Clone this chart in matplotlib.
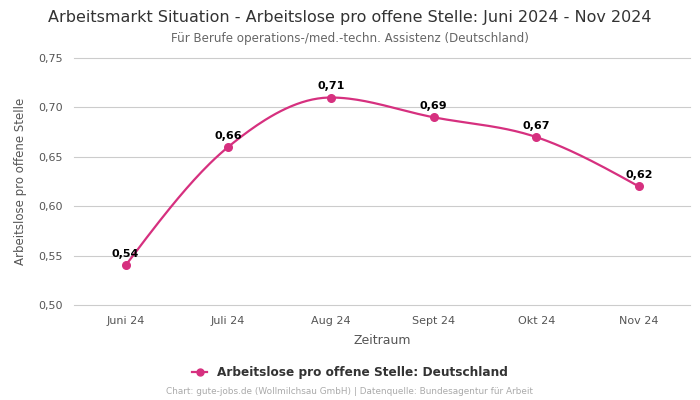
import numpy as np
import matplotlib.pyplot as plt
from matplotlib.lines import Line2D

months = ["Juni 24", "Juli 24", "Aug 24", "Sept 24", "Okt 24", "Nov 24"]
values = [0.54, 0.66, 0.71, 0.69, 0.67, 0.62]
y_ticks = [0.50, 0.55, 0.60, 0.65, 0.70, 0.75]

color = "#d6307f"


def monotone_curve(x, y, n=40):
    # d3-style monotoneX smoothing, only used to draw the line between points
    x = np.asarray(x, float)
    y = np.asarray(y, float)
    h = np.diff(x)
    s = np.diff(y) / h
    m = np.zeros_like(y)
    for i in range(1, len(y) - 1):
        p = (s[i - 1] * h[i] + s[i] * h[i - 1]) / (h[i - 1] + h[i])
        m[i] = (np.sign(s[i - 1]) + np.sign(s[i])) * min(abs(s[i - 1]), abs(s[i]), 0.5 * abs(p))
    m[0] = (3 * s[0] - m[1]) / 2
    m[-1] = (3 * s[-1] - m[-2]) / 2
    xs, ys = [], []
    for i in range(len(x) - 1):
        t = np.linspace(0, 1, n)
        h00 = 2 * t**3 - 3 * t**2 + 1
        h10 = t**3 - 2 * t**2 + t
        h01 = -2 * t**3 + 3 * t**2
        h11 = t**3 - t**2
        xs.append(x[i] + t * h[i])
        ys.append(h00 * y[i] + h10 * h[i] * m[i] + h01 * y[i + 1] + h11 * h[i] * m[i + 1])
    return np.concatenate(xs), np.concatenate(ys)


fig = plt.figure(figsize=(7, 4), dpi=100)
ax = fig.add_axes([0.106, 0.2375, 0.88, 0.6175])

xpos = np.arange(len(months))
cx, cy = monotone_curve(xpos, values)
ax.plot(cx, cy, color=color, linewidth=1.6, zorder=3)
ax.scatter(xpos, values, color=color, s=30, zorder=4)

for xi, v in zip(xpos, values):
    ax.annotate(f"{v:.2f}".replace(".", ","), (xi, v), xytext=(0, 4.5),
                textcoords="offset points", ha="center", va="bottom",
                fontsize=8, fontweight="bold", color="black")

ax.set_xlim(-0.5, len(months) - 0.5)
ax.set_ylim(0.50, 0.75)
ax.set_xticks(xpos)
ax.set_xticklabels(months)
ax.set_yticks(y_ticks)
ax.set_yticklabels([f"{t:.2f}".replace(".", ",") for t in y_ticks])
ax.tick_params(axis="both", length=0, labelsize=8, labelcolor="#555555", pad=8)
ax.yaxis.grid(True, color="#cccccc", linewidth=0.8)
for gl in ax.get_ygridlines():
    gl.set_clip_on(False)
ax.set_axisbelow(True)
for s in ax.spines.values():
    s.set_visible(False)

ax.set_xlabel("Zeitraum", fontsize=9, color="#555555", labelpad=6)
ax.set_ylabel("Arbeitslose pro offene Stelle", fontsize=8.5, color="#555555", labelpad=8)

fig.text(0.5, 0.957, "Arbeitsmarkt Situation - Arbeitslose pro offene Stelle: Juni 2024 - Nov 2024",
         ha="center", va="center", fontsize=11.5, color="#333333")
fig.text(0.5, 0.903, "Für Berufe operations-/med.-techn. Assistenz (Deutschland)",
         ha="center", va="center", fontsize=8.6, color="#666666")

handle = Line2D([], [], color=color, marker="o", markersize=5, linewidth=1.6)
fig.legend([handle], ["Arbeitslose pro offene Stelle: Deutschland"], loc="center",
           bbox_to_anchor=(0.5, 0.068), frameon=False, handlelength=1.2,
           prop={"size": 8.7, "weight": "bold"}, labelcolor="#333333")

fig.text(0.5, 0.02, "Chart: gute-jobs.de (Wollmilchsau GmbH) | Datenquelle: Bundesagentur für Arbeit",
         ha="center", va="center", fontsize=6.4, color="#aaaaaa")

fig.savefig("out.png", dpi=100)
